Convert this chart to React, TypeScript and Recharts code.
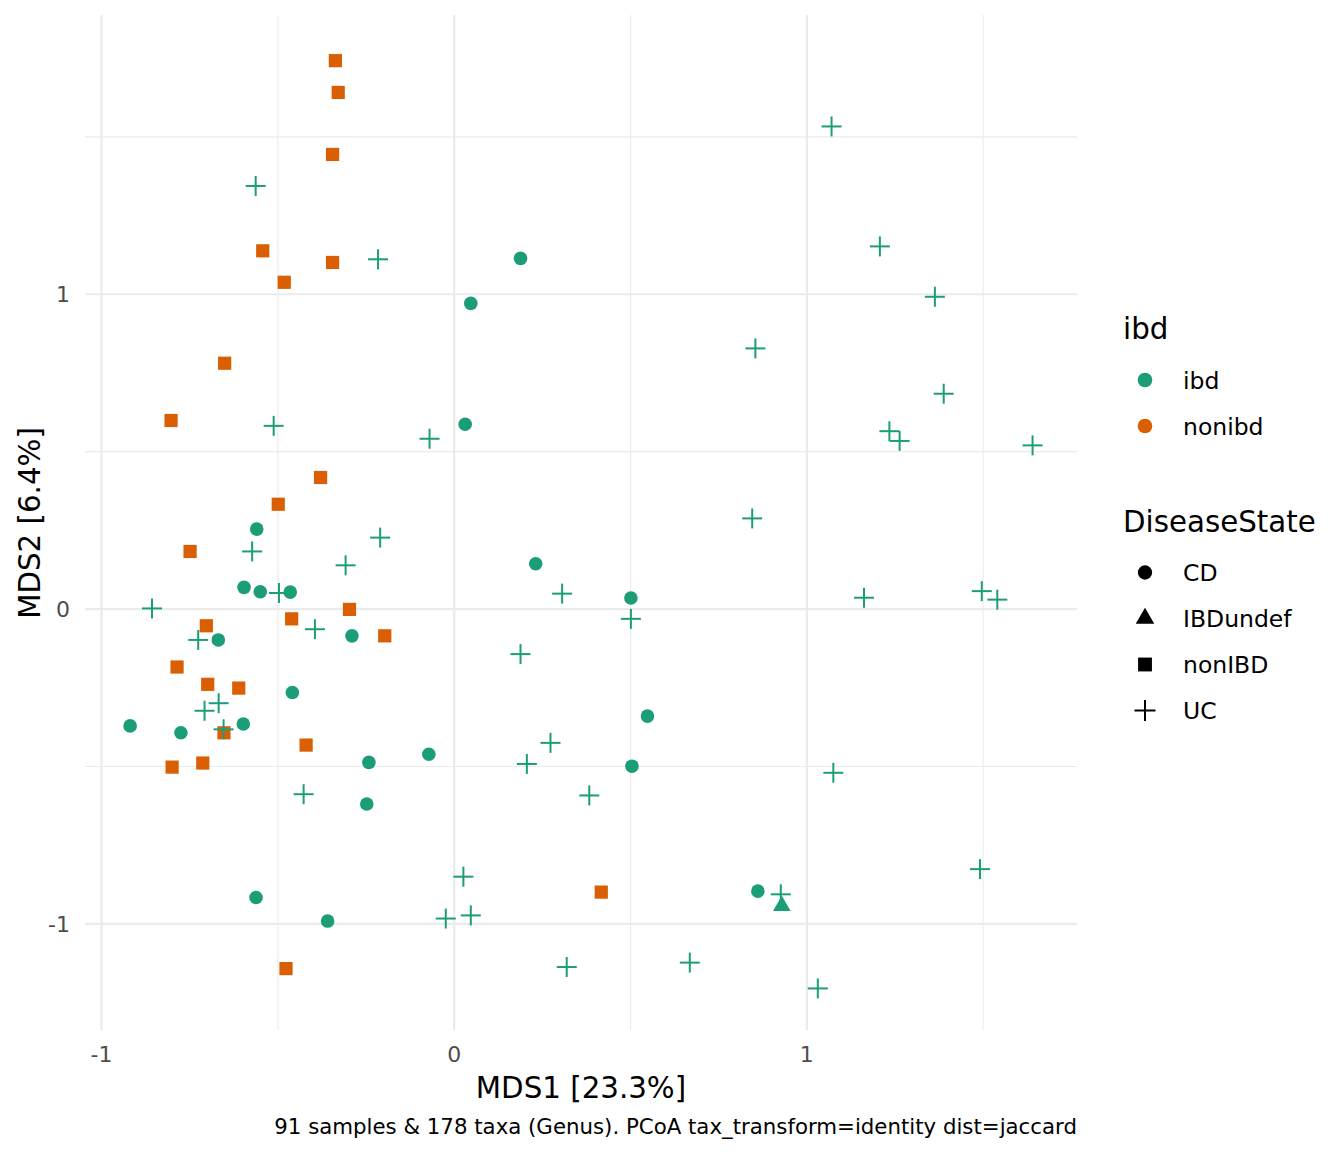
import { ScatterChart, Scatter, XAxis, YAxis, ReferenceLine } from 'recharts'

// PCoA coordinates (MDS1, MDS2), one list per DiseaseState
const cdPoints = [
  [0.188, 1.114], [0.047, 0.971], [0.031, 0.587], [-0.56, 0.254], [0.231, 0.144],
  [-0.596, 0.069], [-0.55, 0.055], [-0.465, 0.054], [-0.669, -0.098], [-0.29, -0.085],
  [-0.459, -0.265], [-0.919, -0.371], [-0.775, -0.393], [-0.598, -0.365], [-0.072, -0.461],
  [-0.242, -0.487], [-0.248, -0.619], [-0.562, -0.916], [-0.359, -0.991], [0.501, 0.035],
  [0.548, -0.34], [0.504, -0.499], [0.861, -0.896],
]
const ibdUndefPoints = [[0.929, -0.943]]
const nonIbdPoints = [
  [-0.337, 1.742], [-0.329, 1.641], [-0.345, 1.444], [-0.543, 1.138], [-0.345, 1.101],
  [-0.482, 1.038], [-0.651, 0.781], [-0.803, 0.599], [-0.379, 0.418], [-0.499, 0.333],
  [-0.749, 0.183], [-0.297, -0.001], [-0.461, -0.031], [-0.703, -0.053], [-0.197, -0.085],
  [-0.786, -0.184], [-0.699, -0.239], [-0.611, -0.251], [-0.653, -0.393], [-0.42, -0.432],
  [-0.8, -0.502], [-0.713, -0.489], [0.417, -0.899], [-0.477, -1.142],
]
const ucPoints = [
  [-0.563, 1.344], [-0.216, 1.111], [-0.512, 0.582], [-0.07, 0.541], [-0.857, 0.002],
  [-0.573, 0.183], [-0.21, 0.227], [-0.308, 0.139], [-0.497, 0.051], [-0.395, -0.064],
  [-0.726, -0.098], [-0.668, -0.299], [-0.708, -0.323], [-0.654, -0.382], [0.306, 0.049],
  [0.188, -0.143], [0.273, -0.425], [0.206, -0.492], [-0.427, -0.588], [0.026, -0.85],
  [0.047, -0.973], [-0.024, -0.983], [0.319, -1.137], [0.501, -0.031], [0.845, 0.288],
  [1.162, 0.036], [1.496, 0.057], [1.54, 0.03], [1.075, -0.52], [0.383, -0.592],
  [1.491, -0.826], [0.926, -0.906], [0.668, -1.123], [1.031, -1.205], [1.07, 1.533],
  [1.207, 1.152], [1.363, 0.992], [0.854, 0.828], [1.388, 0.684], [1.234, 0.565],
  [1.263, 0.534], [1.64, 0.52],
]

const xTicks = [-1, 0, 1]
const yTicks = [-1, 0, 1]
const xMinorTicks = [-0.5, 0.5, 1.5]
const yMinorTicks = [-0.5, 0.5, 1.5]

const ibdLevels = ['ibd', 'nonibd']
const stateLevels = ['CD', 'IBDundef', 'nonIBD', 'UC']

const GREEN = '#1B9E77'
const ORANGE = '#D95F02'
const GRID = '#EBEBEB'
const FONT = '"DejaVu Sans", sans-serif'

const toRows = (pts: number[][]) => pts.map(([x, y]) => ({ x, y }))

// point glyphs in the style of ggplot shapes 16 / 17 / 15 / 3
const glyph = (kind: string, cx: number, cy: number, color: string, s = 1) => {
  if (kind === 'CD') return <circle cx={cx} cy={cy} r={6.8 * s} fill={color} />
  if (kind === 'nonIBD') return <rect x={cx - 6.6 * s} y={cy - 6.6 * s} width={13.2 * s} height={13.2 * s} fill={color} />
  if (kind === 'IBDundef') {
    const pts = `${cx},${cy - 10.2 * s} ${cx - 8.8 * s},${cy + 5.1 * s} ${cx + 8.8 * s},${cy + 5.1 * s}`
    return <polygon points={pts} fill={color} />
  }
  return (
    <g stroke={color} strokeWidth={2}>
      <line x1={cx - 10 * s} y1={cy} x2={cx + 10 * s} y2={cy} />
      <line x1={cx} y1={cy - 10 * s} x2={cx} y2={cy + 10 * s} />
    </g>
  )
}

const shapeFor = (kind: string, color: string) => (p: any) => glyph(kind, p.cx, p.cy, color)

function LegendOverlay() {
  const ibdColors = [GREEN, ORANGE]
  return (
    <g fontFamily={FONT}>
      <text x={1123} y={339} fontSize={29.3} fill="#000">ibd</text>
      {ibdLevels.map((lab, i) => (
        <g key={lab}>
          <circle cx={1145} cy={380 + i * 46} r={7.3} fill={ibdColors[i]} />
          <text x={1183} y={380 + i * 46 + 8.6} fontSize={23.5} fill="#000">{lab}</text>
        </g>
      ))}
      <text x={1123} y={532} fontSize={29.3} fill="#000">DiseaseState</text>
      {stateLevels.map((lab, i) => (
        <g key={lab}>
          {glyph(lab, 1145, 572.5 + i * 46, '#000', 1.05)}
          <text x={1183} y={572.5 + i * 46 + 8.6} fontSize={23.5} fill="#000">{lab}</text>
        </g>
      ))}
    </g>
  )
}

export default function App() {
  const tick = { fontSize: 22, fill: '#4D4D4D', fontFamily: FONT }
  return (
    <div style={{ position: 'absolute', left: 0, top: 0, width: 1344, height: 1152, background: '#fff' }}>
      <ScatterChart width={1344} height={1152} margin={{ top: 15, right: 267, bottom: 82, left: 25 }}>
        <XAxis
          type="number" dataKey="x" domain={[-1.047, 1.766]} ticks={xTicks} interval={0} allowDataOverflow
          axisLine={false} tickLine={false} tickSize={0} tickMargin={16} height={40} tick={tick}
        />
        <YAxis
          type="number" dataKey="y" domain={[-1.337, 1.887]} ticks={yTicks} interval={0} allowDataOverflow
          axisLine={false} tickLine={false} tickSize={0} tickMargin={15} width={60} tick={tick}
        />
        {xMinorTicks.map((v) => <ReferenceLine key={'xm' + v} x={v} stroke={GRID} strokeWidth={1.1} />)}
        {yMinorTicks.map((v) => <ReferenceLine key={'ym' + v} y={v} stroke={GRID} strokeWidth={1.1} />)}
        {xTicks.map((v) => <ReferenceLine key={'x' + v} x={v} stroke={GRID} strokeWidth={2.2} />)}
        {yTicks.map((v) => <ReferenceLine key={'y' + v} y={v} stroke={GRID} strokeWidth={2.2} />)}
        <Scatter name="nonIBD" data={toRows(nonIbdPoints)} shape={shapeFor('nonIBD', ORANGE)} isAnimationActive={false} />
        <Scatter name="CD" data={toRows(cdPoints)} shape={shapeFor('CD', GREEN)} isAnimationActive={false} />
        <Scatter name="IBDundef" data={toRows(ibdUndefPoints)} shape={shapeFor('IBDundef', GREEN)} isAnimationActive={false} />
        <Scatter name="UC" data={toRows(ucPoints)} shape={shapeFor('UC', GREEN)} isAnimationActive={false} />
      </ScatterChart>
      <svg width={1344} height={1152} style={{ position: 'absolute', left: 0, top: 0, pointerEvents: 'none' }}>
        <text x={581} y={1098} textAnchor="middle" fontSize={29.3} fontFamily={FONT} fill="#000">MDS1 [23.3%]</text>
        <text x={39.5} y={523} textAnchor="middle" fontSize={29.3} fontFamily={FONT} fill="#000" transform="rotate(-90 39.5 523)">
          MDS2 [6.4%]
        </text>
        <text x={1077} y={1134} textAnchor="end" fontSize={21.3} fontFamily={FONT} fill="#000">
          91 samples &amp; 178 taxa (Genus). PCoA tax_transform=identity dist=jaccard
        </text>
        <LegendOverlay />
      </svg>
    </div>
  )
}
